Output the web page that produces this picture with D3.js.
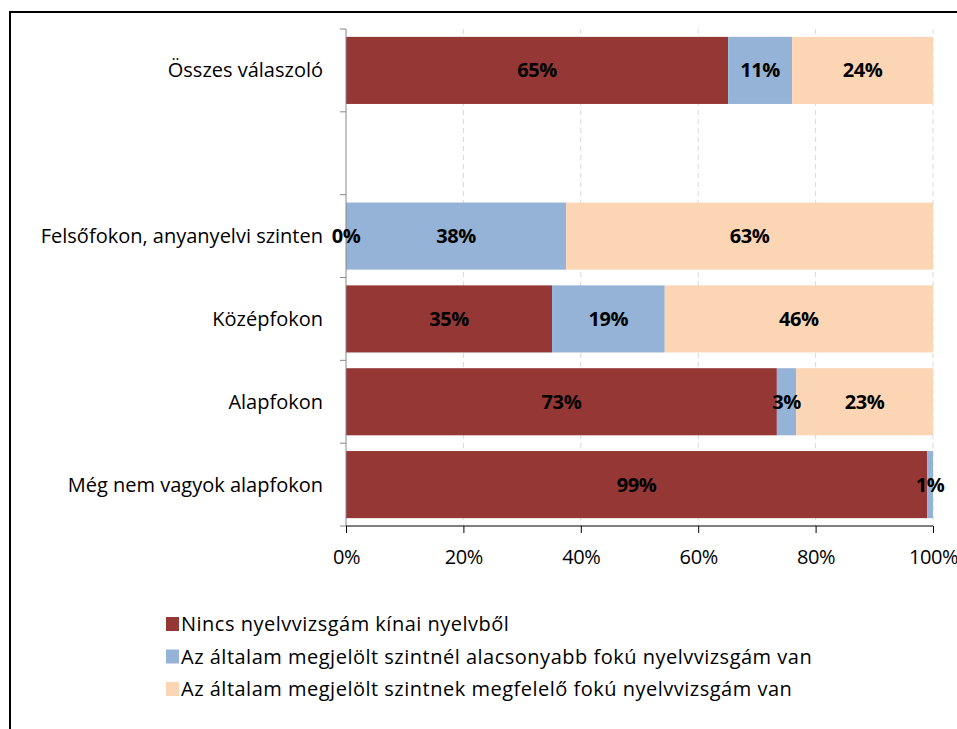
<!DOCTYPE html>
<html>
<head>
<meta charset="utf-8">
<title>Kínai nyelvvizsga</title>
<script src="https://cdn.jsdelivr.net/npm/d3@7"></script>
<style>
  body { margin: 0; background: #fff; }
  svg text { font-family: "Open Sans", sans-serif; }
</style>
</head>
<body>
<svg id="chart" width="957" height="729"></svg>
<script>
// categories top to bottom, "" is the empty slot in the chart
var categories = ['Összes válaszoló', '', 'Felsőfokon, anyanyelvi szinten', 'Középfokon', 'Alapfokon', 'Még nem vagyok alapfokon'];
var seriesNames = [
  'Nincs nyelvvizsgám kínai nyelvből',
  'Az általam megjelölt szintnél alacsonyabb fokú nyelvvizsgám van',
  'Az általam megjelölt szintnek megfelelő fokú nyelvvizsgám van'
];
// values per series, in category order (null = no bar / no label)
var nincs    = [65.1, null, 0,    35.1, 73.4, 99.0];
var alacsony = [10.9, null, 37.5, 19.2, 3.3,  1.0];
var megfelel = [24.0, null, 62.5, 45.7, 23.3, null];
var labelsNincs    = ['65%', null, '0%', '35%', '73%', '99%'];
var labelsAlacsony = ['11%', null, '38%', '19%', '3%', '1%'];
var labelsMegfelel = ['24%', null, '63%', '46%', '23%', null];
var ticks = [0, 20, 40, 60, 80, 100];
var colors = ['#953735', '#95b3d7', '#fcd5b5'];

var series = [nincs, alacsony, megfelel];
var seriesLabels = [labelsNincs, labelsAlacsony, labelsMegfelel];

var svg = d3.select('#chart');

// outer frame (only top + left visible in the picture)
svg.append('path')
  .attr('d', 'M10,729 L10,12 L957,12')
  .attr('fill', 'none')
  .attr('stroke', '#000')
  .attr('stroke-width', 2);

var x = d3.scaleLinear().domain([0, 100]).range([346, 933]);
var y = d3.scaleBand().domain(d3.range(categories.length)).range([29, 526]).paddingInner(0.19).paddingOuter(0.095);

// dashed gridlines
svg.append('g').selectAll('line')
  .data(ticks.slice(1))
  .join('line')
  .attr('x1', d => x(d)).attr('x2', d => x(d))
  .attr('y1', 29).attr('y2', 526)
  .attr('stroke', '#d9d9d9')
  .attr('stroke-dasharray', '5,4');

// stacked bars
var rows = [];
categories.forEach(function (c, i) {
  var acc = 0;
  series.forEach(function (s, k) {
    var v = s[i];
    if (v === null) return;
    rows.push({ i: i, k: k, x0: acc, x1: acc + v, label: seriesLabels[k][i] });
    acc += v;
  });
});

svg.append('g').selectAll('rect')
  .data(rows.filter(d => d.x1 > d.x0))
  .join('rect')
  .attr('x', d => x(d.x0))
  .attr('y', d => y(d.i))
  .attr('width', d => x(d.x1) - x(d.x0))
  .attr('height', y.bandwidth())
  .attr('fill', d => colors[d.k]);

// y axis
var yAxis = svg.append('g').attr('transform', 'translate(346,0)');
yAxis.append('line').attr('y1', 29).attr('y2', 526).attr('stroke', '#888');
yAxis.selectAll('line.tick')
  .data(d3.range(categories.length + 1))
  .join('line')
  .attr('class', 'tick')
  .attr('x1', -6).attr('x2', 0)
  .attr('y1', d => 29 + d * y.step()).attr('y2', d => 29 + d * y.step())
  .attr('stroke', '#888');

svg.append('g').selectAll('text')
  .data(categories)
  .join('text')
  .attr('x', 323)
  .attr('y', (d, i) => y(i) + y.bandwidth() / 2)
  .attr('dy', '0.35em')
  .attr('text-anchor', 'end')
  .attr('font-size', 20)
  .attr('fill', '#000')
  .text(d => d);

// x axis
var xAxis = d3.axisBottom(x)
  .tickValues(ticks)
  .tickSize(7)
  .tickFormat(d => d + '%');
var gx = svg.append('g').attr('transform', 'translate(0,526)').call(xAxis);
gx.select('.domain').attr('stroke', '#000').attr('d', 'M346,0H933');
gx.selectAll('.tick line').attr('stroke', '#000');
gx.selectAll('.tick text')
  .attr('font-size', 20)
  .attr('letter-spacing', -0.4)
  .attr('font-family', '"Open Sans", sans-serif')
  .attr('fill', '#000')
  .attr('dy', 0)
  .attr('y', 38);

// value labels
svg.append('g').selectAll('text')
  .data(rows.filter(d => d.label))
  .join('text')
  .attr('x', d => x((d.x0 + d.x1) / 2))
  .attr('y', d => y(d.i) + y.bandwidth() / 2)
  .attr('dy', '0.35em')
  .attr('text-anchor', 'middle')
  .attr('font-size', 20)
  .attr('letter-spacing', -0.4)
  .attr('font-weight', 'bold')
  .attr('fill', '#000')
  .text(d => d.label);

// legend
var legend = svg.append('g').attr('transform', 'translate(166,617)');
var item = legend.selectAll('g')
  .data(seriesNames)
  .join('g')
  .attr('transform', (d, i) => 'translate(0,' + (i * 32.5) + ')');
item.append('rect')
  .attr('width', 13).attr('height', 14)
  .attr('fill', (d, i) => colors[i]);
item.append('text')
  .attr('x', 15)
  .attr('y', 7)
  .attr('dy', '0.35em')
  .attr('font-size', 20)
  .attr('letter-spacing', 0.5)
  .attr('fill', '#000')
  .text(d => d);
</script>
</body>
</html>
